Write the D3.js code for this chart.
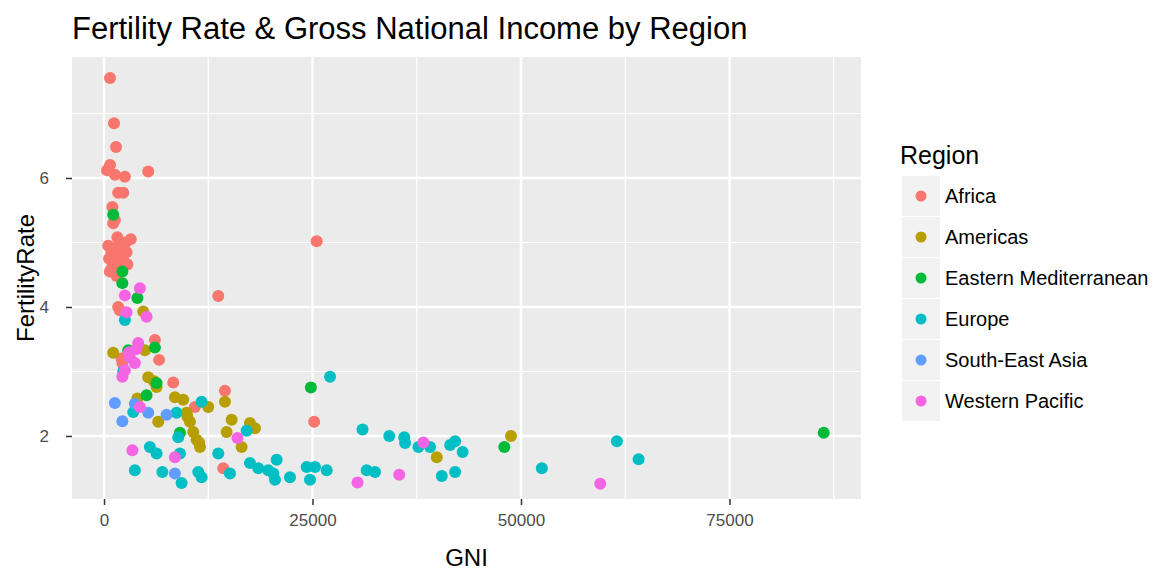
<!DOCTYPE html>
<html>
<head>
<meta charset="utf-8">
<script src="https://cdn.jsdelivr.net/npm/d3@7"></script>
<style>
  html, body { margin: 0; padding: 0; background: #fff; }
  svg { display: block; font-family: "Liberation Sans", Arial, sans-serif; }
</style>
</head>
<body>
<svg id="chart" width="1166" height="571"></svg>
<script>
// ---- Data (GNI, Fertility rate) per region ----
const regions = ["Africa", "Americas", "Eastern Mediterranean", "Europe", "South-East Asia", "Western Pacific"];
const regionColors = ["#F8766D", "#B79F00", "#00BA38", "#00BFC4", "#619CFF", "#F564E3"];

const africa = [
  [720,7.55],[1200,6.85],[1440,6.48],[720,6.2],[360,6.12],[1300,6.05],[2500,6.02],[5300,6.1],
  [1700,5.77],[2300,5.77],[1000,5.55],[1300,5.35],[1100,5.3],[1600,5.08],[3200,5.05],[2600,5.0],
  [500,4.95],[1400,4.92],[2000,4.95],[900,4.85],[1800,4.8],[2700,4.85],[600,4.75],[1500,4.72],
  [2400,4.7],[1000,4.62],[1900,4.6],[700,4.55],[1500,4.48],[2800,4.66],[25500,5.02],[13700,4.17],
  [1700,4.0],[2200,3.13],[6100,3.49],[6600,3.18],[8300,2.83],[10900,2.45],[14500,2.7],[25200,2.22],
  [14300,1.5],[1900,3.95],[2100,3.2]
];
const americas = [
  [1100,3.29],[4900,3.33],[4700,3.93],[5300,2.91],[6300,2.76],[4000,2.58],[8500,2.6],[9500,2.56],
  [9900,2.36],[10300,2.22],[10700,2.06],[11100,1.94],[11500,1.83],[12500,2.45],[14500,2.53],
  [15300,2.25],[14700,2.06],[16500,1.83],[17500,2.2],[18100,2.12],[6500,2.22],[39900,1.67],
  [48800,2.0],[11400,1.9],[10000,2.3],[6000,2.85]
];
const easternMed = [
  [2200,4.55],[2200,4.37],[4000,4.14],[1100,5.43],[2900,3.33],[6100,3.37],[6300,2.82],[5100,2.63],
  [9100,2.05],[24800,2.75],[48000,1.83],[86300,2.05]
];
const europe = [
  [2500,3.8],[2300,3.0],[3500,2.37],[8700,2.36],[11700,2.53],[5500,1.83],[6300,1.73],[3700,1.47],
  [7000,1.44],[8900,1.98],[9100,1.73],[9300,1.27],[11300,1.44],[11700,1.36],[13700,1.73],[15100,1.42],
  [17100,2.08],[17500,1.58],[18500,1.5],[19700,1.47],[20300,1.42],[20700,1.63],[20500,1.32],
  [22300,1.36],[24300,1.52],[25300,1.52],[24700,1.32],[26700,1.47],[27100,2.92],[31000,2.1],
  [31500,1.47],[32500,1.44],[34200,2.0],[36000,1.98],[36100,1.89],[37700,1.83],[39100,1.83],
  [40500,1.38],[41500,1.86],[42100,1.92],[43000,1.75],[42100,1.44],[52500,1.5],[61500,1.92],[64100,1.64]
];
const southEastAsia = [
  [1300,2.51],[2200,2.23],[3700,2.5],[5300,2.36],[7500,2.33],[8500,1.42]
];
const westernPacific = [
  [4300,4.29],[2500,4.18],[2700,3.92],[5100,3.85],[4100,3.44],[3100,3.22],[3700,3.13],[2500,3.02],
  [2200,2.92],[4300,2.45],[3400,1.78],[8500,1.67],[16000,1.97],[30400,1.28],[35400,1.4],[38300,1.9],
  [59500,1.26],[3000,3.3],[3900,3.35]
];
const seriesData = [africa, americas, easternMed, europe, southEastAsia, westernPacific];

const xTicks = [0, 25000, 50000, 75000];
const yTicks = [2, 4, 6];
const xMinor = [12500, 37500, 62500, 87500];
const yMinor = [3, 5, 7];

const titleText = "Fertility Rate & Gross National Income by Region";
const xLabel = "GNI";
const yLabel = "FertilityRate";
const legendTitle = "Region";

// ---- Layout ----
const svg = d3.select("#chart");
const panel = { left: 72, right: 861, top: 57, bottom: 499 };

const x = d3.scaleLinear().domain([-3840, 90770]).range([panel.left, panel.right]);
const y = d3.scaleLinear().domain([1.023, 7.876]).range([panel.bottom, panel.top]);

// Title
svg.append("text")
  .attr("x", 72).attr("y", 39)
  .style("font-size", "31px").attr("fill", "#000")
  .text(titleText);

// Panel background
svg.append("rect")
  .attr("x", panel.left).attr("y", panel.top)
  .attr("width", panel.right - panel.left).attr("height", panel.bottom - panel.top)
  .attr("fill", "#EBEBEB");

const grid = svg.append("g");
// minor grid
grid.selectAll(".xminor").data(xMinor.filter(d => x(d) < panel.right)).enter().append("line")
  .attr("x1", d => x(d)).attr("x2", d => x(d))
  .attr("y1", panel.top).attr("y2", panel.bottom)
  .attr("stroke", "#fff").attr("stroke-width", 1.2);
grid.selectAll(".yminor").data(yMinor).enter().append("line")
  .attr("y1", d => y(d)).attr("y2", d => y(d))
  .attr("x1", panel.left).attr("x2", panel.right)
  .attr("stroke", "#fff").attr("stroke-width", 1.2);
// major grid
grid.selectAll(".xmajor").data(xTicks).enter().append("line")
  .attr("x1", d => x(d)).attr("x2", d => x(d))
  .attr("y1", panel.top).attr("y2", panel.bottom)
  .attr("stroke", "#fff").attr("stroke-width", 2.4);
grid.selectAll(".ymajor").data(yTicks).enter().append("line")
  .attr("y1", d => y(d)).attr("y2", d => y(d))
  .attr("x1", panel.left).attr("x2", panel.right)
  .attr("stroke", "#fff").attr("stroke-width", 2.4);

// Axes
const xAxis = d3.axisBottom(x).tickValues(xTicks).tickSize(6).tickPadding(9).tickFormat(d3.format("d"));
const gx = svg.append("g").attr("transform", `translate(0,${panel.bottom})`).call(xAxis);
gx.attr("font-size", null).attr("font-family", null);
gx.select(".domain").remove();
gx.selectAll("line").attr("stroke", "#333").attr("stroke-width", 1.5);
gx.selectAll("text").style("font-size", "17px").attr("fill", "#4D4D4D");

const yAxis = d3.axisLeft(y).tickValues(yTicks).tickSize(6).tickPadding(17).tickFormat(d3.format("d"));
const gy = svg.append("g").attr("transform", `translate(${panel.left},0)`).call(yAxis);
gy.attr("font-size", null).attr("font-family", null);
gy.select(".domain").remove();
gy.selectAll("line").attr("stroke", "#333").attr("stroke-width", 1.5);
gy.selectAll("text").style("font-size", "17px").attr("fill", "#4D4D4D");

// Axis titles
svg.append("text")
  .attr("x", (panel.left + panel.right) / 2).attr("y", 566)
  .attr("text-anchor", "middle").style("font-size", "24px").attr("fill", "#000")
  .text(xLabel);
svg.append("text")
  .attr("transform", `translate(34,${(panel.top + panel.bottom) / 2}) rotate(-90)`)
  .attr("text-anchor", "middle").style("font-size", "24px").attr("fill", "#000")
  .text(yLabel);

// Points
const pts = svg.append("g");
seriesData.forEach((arr, i) => {
  pts.selectAll(null).data(arr).enter().append("circle")
    .attr("cx", d => x(d[0])).attr("cy", d => y(d[1]))
    .attr("r", 6).attr("fill", regionColors[i]);
});

// Legend
const leg = svg.append("g");
leg.append("text").attr("x", 900).attr("y", 164)
  .style("font-size", "25px").attr("fill", "#000").text(legendTitle);
const rowH = 41, firstCenter = 196;
regions.forEach((r, i) => {
  const cy = firstCenter + i * rowH;
  leg.append("rect").attr("x", 902).attr("y", cy - 20).attr("width", 38).attr("height", 40)
    .attr("fill", "#F2F2F2");
  leg.append("circle").attr("cx", 921).attr("cy", cy).attr("r", 5.5).attr("fill", regionColors[i]);
  leg.append("text").attr("x", 945).attr("y", cy).attr("dy", "0.36em")
    .style("font-size", "20px").attr("fill", "#000").text(r);
});
</script>
</body>
</html>
